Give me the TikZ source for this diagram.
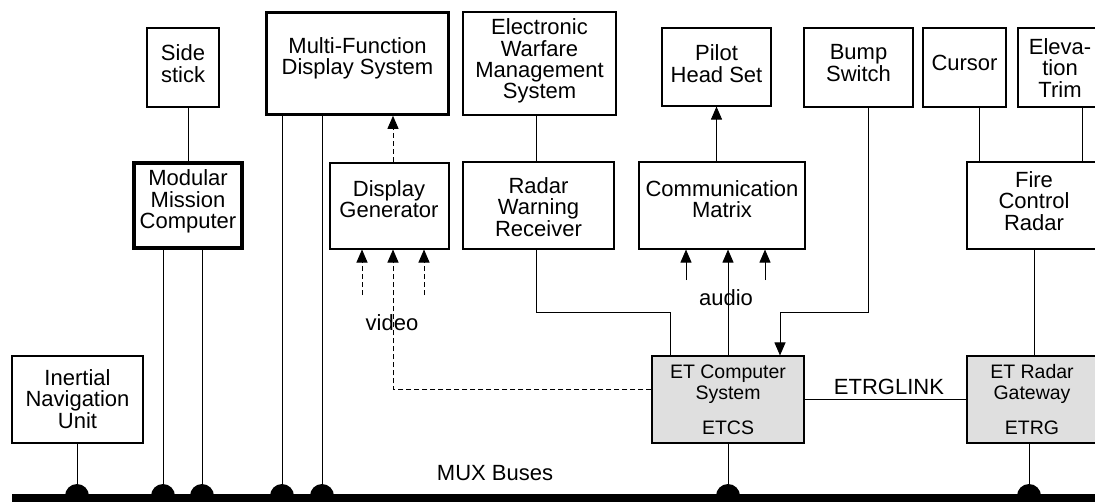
\documentclass[tikz,border=0pt]{standalone}
\usepackage{fontspec}
\setmainfont{Liberation Sans}
\usetikzlibrary{arrows.meta}

\begin{document}
\begin{tikzpicture}[x=1pt, y=-1pt,
		box/.style={draw, line width=1.1pt, inner sep=0pt},
		txt/.style={align=center, inner sep=0pt, font=\fontsize{22}{21.3}\selectfont},
		etbox/.style={box, fill=gray!25, align=center, font=\fontsize{19.5}{21}\selectfont},
		dot/.style={black, fill, circle, inner sep=0pt, minimum size=24pt},
		wire/.style={line width=0.9pt},
		arr/.style={wire, -{Triangle[length=13pt, width=11pt]}},
		dasharr/.style={arr, dash pattern=on 5pt off 3pt}]
		\useasboundingbox (0,0) rectangle (1095,501);
		
		% boxes, left to right
		\node[box, minimum width=72pt, minimum height=79pt] (side) at (183,67.5) {};
		\node[txt] (sidetxt) at (183,63.5) {Side\\stick};
		\node[box, line width=3.5pt, minimum width=108pt, minimum height=85pt] (mmc) at (188,205.5) {};
		\node[txt] (mmctxt) at (188,201.5) {Modular\\Mission\\Computer};
		\node[box, line width=2.6pt, minimum width=182pt, minimum height=102pt] (mfd) at (357.5,63.5) {};
		\node[txt] (mfdtxt) at (357.5,58) {Multi-Function\\Display System};
		\node[box, line width=2pt, minimum width=119pt, minimum height=86pt] (dg) at (389,205.5) {};
		\node[txt] (dgtxt) at (389,199) {Display\\Generator};
		\node[box, minimum width=131pt, minimum height=87pt] (inu) at (77.5,399.5) {};
		\node[txt] (inutxt) at (77.5,399) {Inertial\\Navigation\\Unit};
		\node[box, minimum width=153pt, minimum height=103pt] (ewms) at (539.5,63.5) {};
		\node[txt] (ewmstxt) at (539.5,61) {Electronic\\Warfare\\Management\\System};
		\node[box, minimum width=151pt, minimum height=87pt] (rwr) at (538.5,205.5) {};
		\node[txt] (rwrtxt) at (538.5,207) {Radar\\Warning\\Receiver};
		\node[box, minimum width=109pt, minimum height=78pt] (phs) at (716.5,67) {};
		\node[txt] (phstxt) at (716.5,63.5) {Pilot\\Head Set};
		\node[box, minimum width=166pt, minimum height=87pt] (cm) at (722,205.5) {};
		\node[txt] (cmtxt) at (722,199) {Communication\\Matrix};
		\node[box, minimum width=109pt, minimum height=79pt] (bump) at (858.5,67.5) {};
		\node[txt] (bumptxt) at (858.5,63) {Bump\\Switch};
		\node[box, minimum width=83pt, minimum height=79pt] (cursor) at (964.5,67.5) {};
		\node[txt] (cursortxt) at (964.5,63) {Cursor};
		\node[box, minimum width=84pt, minimum height=79pt] (elev) at (1060,67.5) {};
		\node[txt] (elevtxt) at (1060,68) {Eleva-\\tion\\Trim};
		\node[box, minimum width=134pt, minimum height=87pt] (fcr) at (1034,205.5) {};
		\node[txt] (fcrtxt) at (1034,201) {Fire\\Control\\Radar};
		\node[etbox, minimum width=152pt, minimum height=87pt] (etcs) at (728,399.5) {ET Computer\\System\\[14pt]ETCS};
		\node[etbox, minimum width=130pt, minimum height=87pt] (etrg) at (1032,399.5) {ET Radar\\Gateway\\[14pt]ETRG};
		
		% bus and taps
		\draw[line width=8pt] (12,498) -- (1100,498);
		\node[txt] (mux) at (495,473) {MUX Buses};
		\node[dot] (d1) at (77,496) {};
		\node[dot] (d2) at (163,496) {};
		\node[dot] (d3) at (202,496) {};
		\node[dot] (d4) at (282,496) {};
		\node[dot] (d5) at (322,496) {};
		\node[dot] (d6) at (728,496) {};
		\node[dot] (d7) at (1029,496) {};
		
		\draw[wire] (d1) -- (d1 |- inu.south);
		\draw[wire] (d2) -- (d2 |- mmc.south);
		\draw[wire] (d3) -- (d3 |- mmc.south);
		\draw[wire] (d4) -- (d4 |- mfd.south);
		\draw[wire] (d5) -- (d5 |- mfd.south);
		\draw[wire] (d6) -- (etcs.south);
		\draw[wire] (d7) -- (d7 |- etrg.south);
		
		% video into the display generator
		\coordinate (vid) at (393,389);
		\coordinate (vl) at (362,295);
		\coordinate (vr) at (424,295);
		\draw[dasharr] (vid |- dg.north) -- (vid |- mfd.south);
		\draw[dasharr] (etcs.west |- vid) -- (vid) -- (vid |- dg.south);
		\draw[dasharr] (vl) -- (vl |- dg.south);
		\draw[dasharr] (vr) -- (vr |- dg.south);
		\node[txt] (video) at (392,323) {video};
		
		% audio into the communication matrix
		\coordinate (al) at (686,280);
		\coordinate (ar) at (765,280);
		\draw[arr] (etcs.north) -- (etcs.north |- cm.south);
		\draw[arr] (al) -- (al |- cm.south);
		\draw[arr] (ar) -- (ar |- cm.south);
		\node[txt] (audio) at (726,298) {audio};
		\draw[arr] (phs.south |- cm.north) -- (phs.south);
		
		% the rest
		\draw[wire] (side.south -| mmc.north) -- (mmc.north);
		\draw[wire] (ewms.south -| 536,0) -- (rwr.north -| 536,0);
		\coordinate (rw) at (670,312);
		\draw[wire] (rwr.south -| 536,0) |- (rw) -- (rw |- etcs.north);
		\coordinate (bs) at (868,312);
		\coordinate (bt) at (780,312);
		\draw[arr] (bs |- bump.south) -- (bs) -- (bt) -- (bt |- etcs.north);
		\coordinate (cu) at (979,0);
		\coordinate (et) at (1082,0);
		\draw[wire] (cu |- cursor.south) -- (cu |- fcr.north);
		\draw[wire] (et |- elev.south) -- (et |- fcr.north);
		\draw[wire] (fcr.south) -- (fcr.south |- etrg.north);
		\draw[wire] (etcs.east |- 0,399) -- (etrg.west |- 0,399);
		\node[txt] (link) at (889,387) {ETRGLINK};
\end{tikzpicture}
\end{document}
